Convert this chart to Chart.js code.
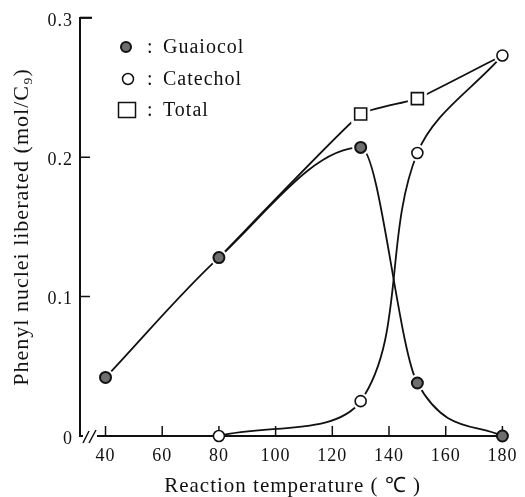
<!DOCTYPE html>
<html><head><meta charset="utf-8">
<style>html,body{margin:0;padding:0;background:#fff;}#wrap{width:525px;height:497px;position:relative;}</style>
<script src="https://cdn.jsdelivr.net/npm/chart.js@4.4.0/dist/chart.umd.min.js"></script>
</head><body><div id="wrap"><canvas id="c"></canvas></div>
<script>
// ---- data ----
const guaiacolTemps = [40, 80, 130, 150, 180];
const guaiacolValues = [0.042, 0.128, 0.207, 0.038, 0.0];
const catecholTemps = [80, 130, 150, 180];
const catecholValues = [0.0, 0.025, 0.203, 0.273];
const totalTemps = [80, 130, 150, 180];
const totalValues = [0.128, 0.231, 0.242, 0.273];
const totalMarked = [false, true, true, false];
const xTickValues = [40, 60, 80, 100, 120, 140, 160, 180];
const yTickValues = [0, 0.1, 0.2, 0.3];
const yTickLabels = ['0', '0.1', '0.2', '0.3'];
const legendLabels = ['Guaiocol', 'Catechol', 'Total'];
const xTitle = 'Reaction temperature ( \u2103 )';
const yTitle = 'Phenyl nuclei liberated (mol/C\u2089)';

const FONT = "'Liberation Serif', 'Times New Roman', serif";
const INK = '#111';
const pts = (xs, ys) => xs.map((x, i) => ({x: x, y: ys[i]}));

const lineBase = {showLine: true, borderColor: INK, borderWidth: 1.8, pointRadius: 0, fill: false, clip: false, order: 3};
const markBase = {showLine: false, clip: false, order: 1, pointBorderColor: INK, isMarker: true};

// markers first (drawn last), lines after (drawn first)
const datasets = [
  Object.assign({}, markBase, {label: 'Guaiocol', data: pts(guaiacolTemps, guaiacolValues), pointRadius: 5.5, pointBackgroundColor: '#6e6e6e', pointBorderWidth: 2, halo: 'circle'}),
  Object.assign({}, markBase, {label: 'Catechol', data: pts(catecholTemps, catecholValues), pointRadius: 5.5, pointBackgroundColor: '#fff', pointBorderWidth: 1.6, halo: 'circle'}),
  Object.assign({}, markBase, {label: 'Total', data: pts(totalTemps, totalValues), pointStyle: 'rect', pointRadius: totalMarked.map(m => m ? 8.5 : 0), pointBackgroundColor: '#fff', pointBorderWidth: 1.6, halo: 'rect'}),
  Object.assign({}, lineBase, {label: 'Guaiacol line', data: pts(guaiacolTemps, guaiacolValues), cubicInterpolationMode: 'monotone'}),
  Object.assign({}, lineBase, {label: 'Catechol line', data: pts(catecholTemps, catecholValues), tension: 0.35}),
  Object.assign({}, lineBase, {label: 'Total line', data: pts(totalTemps, totalValues), tension: 0.12})
];

const decor = {
  id: 'decor',
  beforeDraw(chart) { chart.ctx.letterSpacing = '1px'; },
  beforeDatasetsDraw(chart) {
    const {ctx, chartArea: a, scales: {x, y}} = chart;
    ctx.save();
    ctx.strokeStyle = INK;
    ctx.lineWidth = 1.5;
    ctx.beginPath();
    yTickValues.forEach((v, i) => {
      if (v === 0) return;
      const py = y.getPixelForValue(v);
      ctx.moveTo(a.left, py); ctx.lineTo(a.left + 10, py);
    });
    xTickValues.forEach(v => {
      const px = x.getPixelForValue(v);
      ctx.moveTo(px, a.bottom); ctx.lineTo(px, a.bottom - 10);
    });
    ctx.stroke();
    // top tick heavier
    ctx.lineWidth = 2.2;
    ctx.beginPath();
    const ty = y.getPixelForValue(yTickValues[yTickValues.length - 1]);
    ctx.moveTo(a.left, ty); ctx.lineTo(a.left + 12, ty);
    ctx.stroke();
    // axis break
    ctx.fillStyle = '#fff';
    ctx.fillRect(a.left + 3, a.bottom - 3, 14, 6);
    ctx.lineWidth = 1.5;
    ctx.beginPath();
    ctx.moveTo(a.left + 3, a.bottom + 7); ctx.lineTo(a.left + 9, a.bottom - 5);
    ctx.moveTo(a.left + 9, a.bottom + 7); ctx.lineTo(a.left + 16, a.bottom - 6);
    ctx.stroke();
    ctx.restore();
  },
  beforeDatasetDraw(chart, args) {
    const ds = chart.data.datasets[args.index];
    if (!ds.isMarker) return;
    const {ctx} = chart;
    ctx.save();
    ctx.fillStyle = '#fff';
    args.meta.data.forEach((el, i) => {
      const raw = ds.data[i];
      if (ds.halo === 'circle') {
        if (raw.y <= 0) return;
        ctx.beginPath(); ctx.arc(el.x, el.y, 8.5, 0, Math.PI * 2); ctx.fill();
      } else if (totalMarked[i]) {
        ctx.fillRect(el.x - 9.5, el.y - 9.5, 19, 19);
      }
    });
    ctx.restore();
  },
  afterDraw(chart) {
    const {ctx} = chart;
    ctx.save();
    ctx.letterSpacing = '1px';
    ctx.strokeStyle = INK;
    ctx.beginPath(); ctx.arc(126, 47, 5, 0, Math.PI * 2);
    ctx.fillStyle = '#6e6e6e'; ctx.fill(); ctx.lineWidth = 2; ctx.stroke();
    ctx.beginPath(); ctx.arc(128, 79, 5.5, 0, Math.PI * 2);
    ctx.fillStyle = '#fff'; ctx.fill(); ctx.lineWidth = 1.5; ctx.stroke();
    ctx.lineWidth = 1.5;
    ctx.strokeRect(118.5, 102.5, 17, 15);
    ctx.fillStyle = INK;
    ctx.font = '20px ' + FONT;
    ctx.textBaseline = 'middle';
    ctx.textAlign = 'left';
    const ys = [47, 79, 110];
    legendLabels.forEach((t, i) => {
      ctx.fillText(':', 147, ys[i] + 1);
      ctx.fillText(t, 163, ys[i] + 1);
    });
    ctx.restore();
  }
};

new Chart(document.getElementById('c'), {
  type: 'scatter',
  data: {datasets: datasets},
  options: {
    responsive: true,
    maintainAspectRatio: false,
    animation: false,
    events: [],
    layout: {padding: {top: 15, right: 13, left: 0, bottom: 0}},
    plugins: {legend: {display: false}, tooltip: {enabled: false}},
    scales: {
      x: {
        type: 'linear', min: 31, max: 181,
        afterBuildTicks: s => { s.ticks = xTickValues.map(v => ({value: v})); },
        afterFit: s => { s.height = 61; },
        grid: {display: false, drawTicks: false},
        border: {display: true, color: INK, width: 2},
        ticks: {color: INK, font: {family: FONT, size: 18}, padding: 9, maxRotation: 0, autoSkip: false,
                callback: v => String(v)},
        title: {display: true, text: xTitle, color: INK, font: {family: FONT, size: 21, lineHeight: 1}, padding: {top: 0, bottom: 0}}
      },
      y: {
        type: 'linear', min: 0, max: 0.3,
        afterBuildTicks: s => { s.ticks = yTickValues.map(v => ({value: v})); },
        afterFit: s => { s.width = 80; },
        grid: {display: false, drawTicks: false},
        border: {display: true, color: INK, width: 2},
        ticks: {color: INK, font: {family: FONT, size: 18}, padding: 7, labelOffset: 3,
                callback: v => yTickLabels[yTickValues.indexOf(v)]},
        title: {display: true, text: yTitle, color: INK, font: {family: FONT, size: 22, lineHeight: 1.2}, padding: {top: 9, bottom: 0}}
      }
    }
  },
  plugins: [decor]
});
</script>
</body></html>
